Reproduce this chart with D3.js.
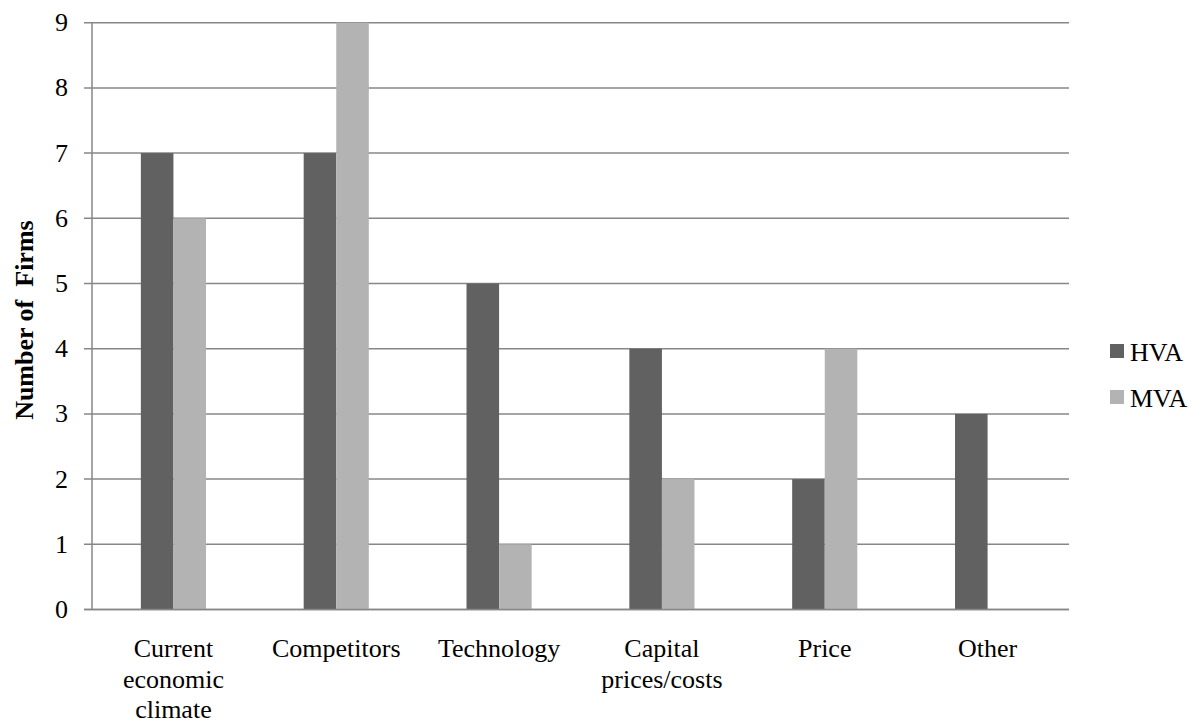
<!DOCTYPE html>
<html>
<head>
<meta charset="utf-8">
<script src="https://cdn.jsdelivr.net/npm/d3@7"></script>
<style>
  html, body { margin: 0; padding: 0; background: #fff; }
  svg { display: block; }
</style>
</head>
<body>
<svg id="chart" width="1193" height="720"></svg>
<script>
// Factors cited by firms, split by group
const categories = [
  ["Current", "economic", "climate"],
  ["Competitors"],
  ["Technology"],
  ["Capital", "prices/costs"],
  ["Price"],
  ["Other"]
];
const seriesNames = ["HVA", "MVA"];
const hvaValues = [7, 7, 5, 4, 2, 3];
const mvaValues = [6, 9, 1, 2, 4, 0];
const yTicks = [0, 1, 2, 3, 4, 5, 6, 7, 8, 9];
const colors = ["#616161", "#b3b3b3"];
const FONT = "'Liberation Serif', Tinos, 'Times New Roman', serif";
const FS = 26;

const svg = d3.select("#chart");
const plot = { left: 92, right: 1069, top: 22.7, bottom: 609.5 };

// Serif text helper: font set both as attribute and as important inline style
function serif(sel) {
  return sel.attr("font-family", FONT)
    .style("font-family", FONT, "important")
    .attr("font-size", FS)
    .attr("fill", "#000");
}

const x0 = d3.scaleBand()
  .domain(d3.range(categories.length))
  .range([plot.left, plot.right])
  .paddingInner(0).paddingOuter(0);

const x1 = d3.scaleBand()
  .domain(seriesNames)
  .range([x0.bandwidth() * 0.3, x0.bandwidth() * 0.7]);

const y = d3.scaleLinear().domain([0, 9]).range([plot.bottom, plot.top]);

// Horizontal gridlines with short ticks on the left
svg.append("g").selectAll("line")
  .data(yTicks)
  .join("line")
  .attr("x1", plot.left - 8)
  .attr("x2", plot.right)
  .attr("y1", d => y(d))
  .attr("y2", d => y(d))
  .attr("stroke", "#878787")
  .attr("stroke-width", 1.5);

// Vertical axis line
svg.append("line")
  .attr("x1", plot.left).attr("x2", plot.left)
  .attr("y1", plot.top).attr("y2", plot.bottom)
  .attr("stroke", "#878787").attr("stroke-width", 1.5);

// Y tick labels
svg.selectAll("text.ytick")
  .data(yTicks)
  .join("text")
  .attr("class", "ytick")
  .attr("x", 68)
  .attr("y", d => y(d) + 8.5)
  .attr("text-anchor", "end")
  .call(serif)
  .text(d => d);

// Bars
const rows = categories.map((c, i) => ({ i, values: [hvaValues[i], mvaValues[i]] }));
const groups = svg.append("g").selectAll("g")
  .data(rows)
  .join("g")
  .attr("transform", d => `translate(${x0(d.i)},0)`);

groups.selectAll("rect")
  .data(d => d.values.map((v, k) => ({ key: seriesNames[k], value: v, k })))
  .join("rect")
  .attr("x", d => x1(d.key))
  .attr("width", x1.bandwidth())
  .attr("y", d => y(d.value))
  .attr("height", d => y(0) - y(d.value))
  .attr("fill", d => colors[d.k]);

// Baseline drawn over the bars
svg.append("line")
  .attr("x1", plot.left - 8).attr("x2", plot.right)
  .attr("y1", y(0)).attr("y2", y(0))
  .attr("stroke", "#878787").attr("stroke-width", 1.5);

// Category labels, one text per line
const catLines = [];
categories.forEach((lines, i) => lines.forEach((t, j) => catLines.push({ i, j, t })));
svg.selectAll("text.cat")
  .data(catLines)
  .join("text")
  .attr("class", "cat")
  .attr("x", d => x0(d.i) + x0.bandwidth() / 2)
  .attr("y", d => 657 + d.j * 30.5)
  .attr("text-anchor", "middle")
  .call(serif)
  .text(d => d.t);

// Y axis title
svg.append("text")
  .attr("transform", `translate(33,${(plot.top + plot.bottom) / 2 + 4}) rotate(-90)`)
  .attr("text-anchor", "middle")
  .call(serif)
  .attr("font-weight", "bold")
  .style("white-space", "pre")
  .text("Number of  Firms");

// Legend
seriesNames.forEach((name, i) => {
  svg.append("rect")
    .attr("x", 1110).attr("y", 344 + i * 46)
    .attr("width", 14).attr("height", 14)
    .attr("fill", colors[i]);
  svg.append("text")
    .attr("x", 1130)
    .attr("y", 361 + i * 46)
    .call(serif)
    .text(name);
});
</script>
</body>
</html>
